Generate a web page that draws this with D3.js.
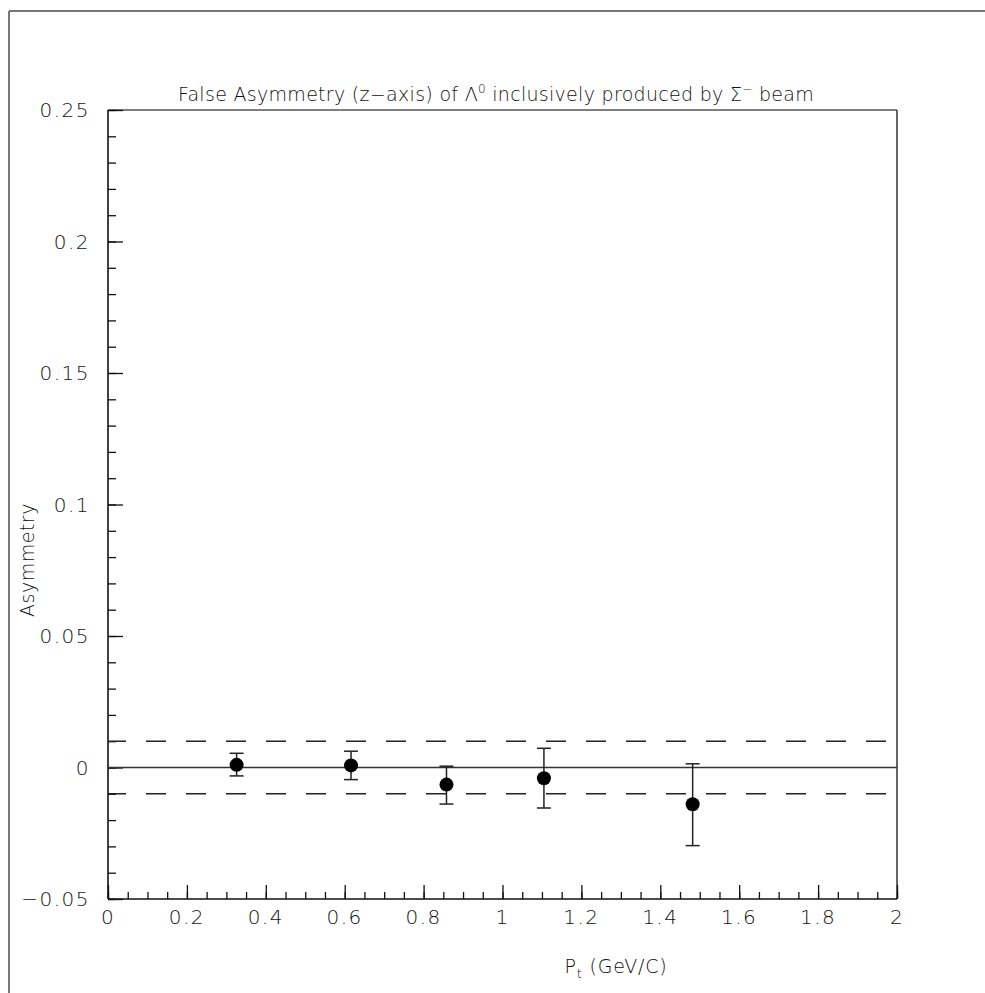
<!DOCTYPE html>
<html>
<head>
<meta charset="utf-8">
<script src="https://cdn.jsdelivr.net/npm/d3@7"></script>
<style>
  html, body { margin: 0; padding: 0; background: #fff; }
  svg text { font-family: "DejaVu Sans", sans-serif; font-weight: 200; fill: #111; }
</style>
</head>
<body>
<svg id="chart" width="985" height="993"></svg>
<script>
// ---- data ----
const ptValues   = [0.326, 0.616, 0.858, 1.105, 1.482];
const asymValues = [0.0010, 0.0008, -0.0065, -0.0041, -0.0140];
const errUp      = [0.0054, 0.0062, 0.0005, 0.0073, 0.0014];   // upper end of error bar
const errDown    = [-0.0032, -0.0046, -0.0139, -0.0154, -0.0297]; // lower end of error bar
const xTickValues = [0, 0.2, 0.4, 0.6, 0.8, 1, 1.2, 1.4, 1.6, 1.8, 2];
const xTickLabels = ["0", "0.2", "0.4", "0.6", "0.8", "1", "1.2", "1.4", "1.6", "1.8", "2"];
const yTickValues = [-0.05, 0, 0.05, 0.1, 0.15, 0.2, 0.25];
const yTickLabels = ["\u22120.05", "0", "0.05", "0.1", "0.15", "0.2", "0.25"];
const bandLevels  = [0.01, -0.01];
const xDomain = [0, 2];
const yDomain = [-0.05, 0.25];

// ---- layout ----
const L = 108, R = 897, T = 110, B = 899;
const svg = d3.select("#chart");

const x = d3.scaleLinear().domain(xDomain).range([L, R]);
const y = d3.scaleLinear().domain(yDomain).range([B, T]);

// outer frame (page border)
svg.append("line").attr("x1", 9).attr("x2", 9).attr("y1", 11).attr("y2", 993)
   .attr("stroke", "#777").attr("stroke-width", 2);
svg.append("line").attr("x1", 9).attr("x2", 985).attr("y1", 11).attr("y2", 11)
   .attr("stroke", "#777").attr("stroke-width", 2);

// plot box top & right
svg.append("line").attr("x1", L).attr("x2", R).attr("y1", T).attr("y2", T)
   .attr("stroke", "#555").attr("stroke-width", 1.5);
svg.append("line").attr("x1", R).attr("x2", R).attr("y1", T).attr("y2", B)
   .attr("stroke", "#333").attr("stroke-width", 1.5);

// y axis
const yMinor = d3.range(-0.05, 0.2501, 0.01).map(v => +v.toFixed(3));
const yAxisMinor = d3.axisRight(y).tickValues(yMinor).tickSize(8).tickFormat("");
const yAxisMajor = d3.axisRight(y).tickValues(yTickValues).tickSize(15).tickFormat("");
[yAxisMinor, yAxisMajor].forEach(ax => {
  const g = svg.append("g").attr("transform", `translate(${L},0)`).call(ax);
  g.select(".domain").remove();
  g.selectAll("line").attr("stroke", "#111").attr("stroke-width", 1.3);
});
svg.append("line").attr("x1", L).attr("x2", L).attr("y1", T).attr("y2", B)
   .attr("stroke", "#111").attr("stroke-width", 1.6);
svg.append("g").selectAll("text").data(yTickValues).join("text")
   .attr("x", 90).attr("y", d => y(d)).attr("dy", "0.36em")
   .attr("text-anchor", "end").attr("font-size", 20).attr("letter-spacing", 1.5)
   .text((d, i) => yTickLabels[i]);

// x axis
const xMinor = d3.range(0, 2.0001, 0.05).map(v => +v.toFixed(3));
const xAxisMinor = d3.axisTop(x).tickValues(xMinor).tickSize(7).tickFormat("");
const xAxisMajor = d3.axisTop(x).tickValues(xTickValues).tickSize(14).tickFormat("");
[xAxisMinor, xAxisMajor].forEach(ax => {
  const g = svg.append("g").attr("transform", `translate(0,${B})`).call(ax);
  g.select(".domain").remove();
  g.selectAll("line").attr("stroke", "#111").attr("stroke-width", 1.3);
});
svg.append("line").attr("x1", L).attr("x2", R).attr("y1", B).attr("y2", B)
   .attr("stroke", "#111").attr("stroke-width", 1.6);
svg.append("g").selectAll("text").data(xTickValues).join("text")
   .attr("x", d => x(d)).attr("y", 924)
   .attr("text-anchor", "middle").attr("font-size", 20).attr("letter-spacing", 1.5)
   .text((d, i) => xTickLabels[i]);

// zero line
svg.append("line").attr("x1", L).attr("x2", R).attr("y1", y(0)).attr("y2", y(0))
   .attr("stroke", "#333").attr("stroke-width", 1.5);
// dashed band
svg.append("g").selectAll("line").data(bandLevels).join("line")
   .attr("x1", L).attr("x2", R).attr("y1", d => y(d)).attr("y2", d => y(d))
   .attr("stroke", "#222").attr("stroke-width", 1.5)
   .attr("stroke-dasharray", "20,20").attr("stroke-dashoffset", 2);

// error bars
const pts = ptValues.map((p, i) => ({p, a: asymValues[i], hi: errUp[i], lo: errDown[i]}));
const eb = svg.append("g").attr("stroke", "#222").attr("stroke-width", 1.5);
eb.selectAll("line.v").data(pts).join("line").attr("class", "v")
  .attr("x1", d => x(d.p)).attr("x2", d => x(d.p)).attr("y1", d => y(d.hi)).attr("y2", d => y(d.lo));
eb.selectAll("line.t").data(pts).join("line").attr("class", "t")
  .attr("x1", d => x(d.p) - 7).attr("x2", d => x(d.p) + 7).attr("y1", d => y(d.hi)).attr("y2", d => y(d.hi));
eb.selectAll("line.b").data(pts).join("line").attr("class", "b")
  .attr("x1", d => x(d.p) - 7).attr("x2", d => x(d.p) + 7).attr("y1", d => y(d.lo)).attr("y2", d => y(d.lo));
svg.append("g").selectAll("circle").data(pts).join("circle")
   .attr("cx", d => x(d.p)).attr("cy", d => y(d.a)).attr("r", 7).attr("fill", "#000");

// title
const title = svg.append("text").attr("x", 496).attr("y", 101)
   .attr("text-anchor", "middle").attr("font-size", 19).attr("letter-spacing", 0.3);
title.append("tspan").text("False Asymmetry (z\u2212axis) of \u039B");
title.append("tspan").attr("font-size", 12).attr("dy", -8).text("0");
title.append("tspan").attr("dy", 8).text(" inclusively produced by \u03A3");
title.append("tspan").attr("font-size", 12).attr("dy", -8).text("\u2212");
title.append("tspan").attr("dy", 8).text(" beam");

// axis titles
const xt = svg.append("text").attr("x", 616).attr("y", 973)
   .attr("text-anchor", "middle").attr("font-size", 19).attr("letter-spacing", 0.8);
xt.append("tspan").text("P");
xt.append("tspan").attr("font-size", 13).attr("dy", 5).text("t");
xt.append("tspan").attr("dy", -5).text(" (GeV/C)");

svg.append("text").attr("transform", "translate(34,560) rotate(-90)")
   .attr("text-anchor", "middle").attr("font-size", 19).attr("letter-spacing", 0.5).text("Asymmetry");
</script>
</body>
</html>
